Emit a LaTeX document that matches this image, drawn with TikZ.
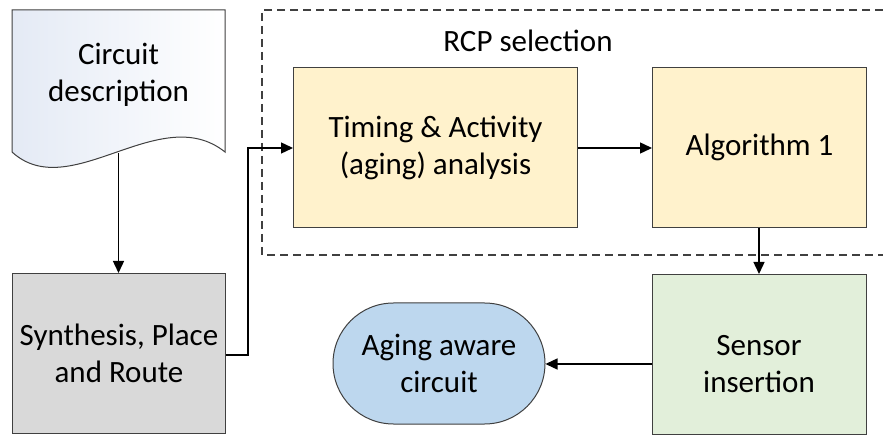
\documentclass[tikz,border=0pt]{standalone}
\usepackage{fontspec}
\setmainfont{Carlito}
\usetikzlibrary{arrows.meta}
\definecolor{edgegray}{HTML}{404040}
\definecolor{procyellow}{HTML}{FFF2CC}
\definecolor{procgreen}{HTML}{E2EFDA}
\definecolor{procblue}{HTML}{BDD7EE}
\definecolor{procgray}{HTML}{D9D9D9}
\definecolor{docblue}{HTML}{E4EAF5}
\tikzset{
  txt/.style={font=\fontsize{31}{37}\selectfont, align=center, text=black},
  procbox/.style={txt, draw=edgegray, line width=1pt, anchor=north west, inner sep=0pt},
  flow/.style={draw=black, line width=1.4pt, -{Triangle[length=12pt,width=11pt]}},
  groupline/.style={draw=edgegray, line width=1.3pt, dash pattern=on 8pt off 5pt}
}
\begin{document}
\begin{tikzpicture}[x=1pt,y=-1pt]
\useasboundingbox (0,0) rectangle (883,435);
\fill[white] (0,0) rectangle (883,435);

% dashed group around the RCP selection steps
\draw[groupline] (883,10) -- (262,10) -- (262,255) -- (883,255);
\node[txt] (rcp) at (528,41) {RCP selection};

% document shape with wavy bottom
\shade[shading angle=45, left color=docblue, right color=white]
  (12,10) -- (225,10) -- (225,152) .. controls (160,100) and (70,205) .. (12,152) -- cycle;
\draw[edgegray, line width=1pt]
  (12,10) -- (225,10) -- (225,152) .. controls (160,100) and (70,205) .. (12,152) -- cycle;
\node[txt] (doc) at (118.5,75) {Circuit\\description};
\coordinate (docout) at (118.5,153);

% process boxes
\node[procbox, fill=procgray, minimum width=213pt, minimum height=160pt] (spr) at (12,273) {Synthesis, Place\\and Route};
\node[procbox, fill=procyellow, minimum width=284pt, minimum height=160pt] (timing) at (293,67) {Timing \& Activity\\(aging) analysis};
\node[procbox, fill=procyellow, minimum width=214pt, minimum height=160pt] (algo) at (652,67) {Algorithm 1};
\node[procbox, fill=procgreen, minimum width=214pt, minimum height=160pt] (sensor) at (652,274) {};
\node[txt] (sensortext) at (759,364) {Sensor\\insertion};
\node[txt, draw=edgegray, line width=1pt, fill=procblue, rounded corners=60.5pt,
      minimum width=212pt, minimum height=121pt, inner sep=0pt] (out) at (439,363.5) {Aging aware\\circuit};

% connectors
\draw[flow] (docout) -- (spr.north -| docout);
\draw[flow] (spr.east |- 0,355) -- (248,355) -- (248,148) -- (timing.west |- 0,148);
\draw[flow] (timing.east |- 0,148) -- (algo.west |- 0,148);
\draw[flow] (algo.south -| 759,0) -- (sensor.north -| 759,0);
\draw[flow] (sensor.west |- 0,364) -- (out.east |- 0,364);
\end{tikzpicture}
\end{document}
